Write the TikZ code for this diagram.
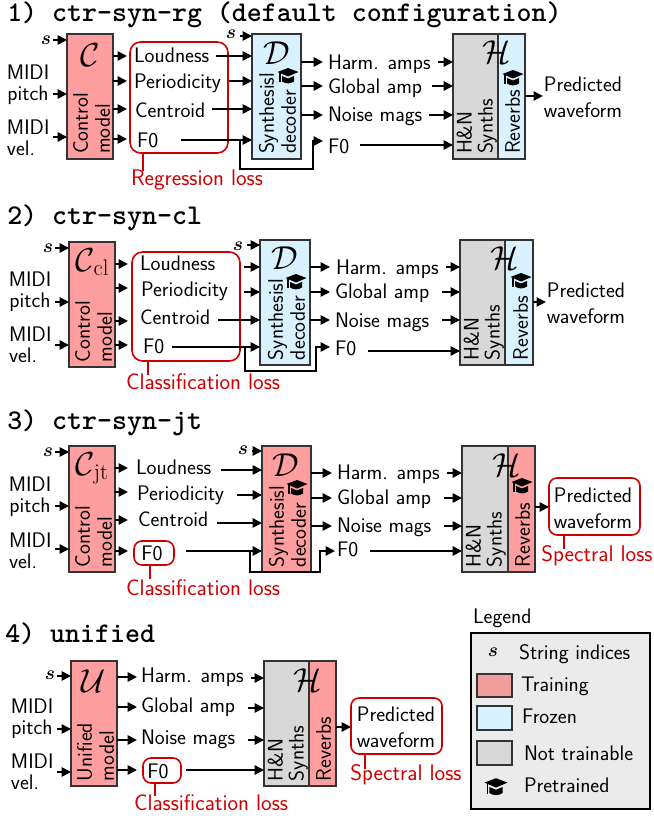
\documentclass[tikz,border=0pt]{standalone}
\usepackage{amsmath}
\usepackage{fontspec}
\usetikzlibrary{arrows.meta}
\renewcommand{\familydefault}{\sfdefault}
\definecolor{trainred}{HTML}{FF9E9E}
\definecolor{frozenblue}{HTML}{DAF1FF}
\definecolor{synthgray}{HTML}{D8D8D8}
\definecolor{edgedark}{HTML}{333333}
\definecolor{lossred}{HTML}{CC0000}
\definecolor{legendbg}{HTML}{EBEBEB}
\def\pxu{0.75pt}
\tikzset{
  x=0.75pt,y=-0.75pt,
  conn/.style={line width=1.3pt,-{Triangle[length=7pt,width=7pt]}},
  bline/.style={line width=1.3pt,line join=miter},
  blockbase/.style={draw=edgedark,line width=2.1pt,inner sep=0pt,outer sep=0pt},
  redblock/.style={blockbase,fill=trainred},
  blueblock/.style={blockbase,fill=frozenblue},
  grayblock/.style={blockbase,fill=synthgray},
  lab/.style={inner sep=0pt,outer sep=0pt,font=\fontsize{15.8}{16}\selectfont,text=black},
  mlab/.style={lab,align=center},
  plab/.style={lab,align=center,font=\fontsize{15.8}{19.5}\selectfont},
  vel/.style={lab,align=left,anchor=west},
  wlab/.style={lab,anchor=west,text height=11pt,text depth=3pt,yshift=-0.75pt},
  vlab/.style={lab,align=left,rotate=90,anchor=south west,font=\fontsize{15.8}{16.5}\selectfont},
  hlab/.style={vlab,font=\fontsize{15.8}{15.75}\selectfont},
  title/.style={inner sep=0pt,anchor=west,text height=15pt,text depth=4pt,font=\fontsize{21.4}{24}\ttfamily\bfseries\selectfont},
  sym/.style={inner sep=0pt,outer sep=0pt,font=\fontsize{29}{30}\selectfont},
  snode/.style={inner sep=0pt,outer sep=0pt,font=\fontsize{15}{16}\selectfont},
  lossbox/.style={draw=lossred,line width=1.2pt,rounded corners=6pt,inner sep=0pt,outer sep=0pt,fill=none},
  losstext/.style={lab,text=lossred,font=\fontsize{16.9}{17}\selectfont},
  lossline/.style={draw=lossred,line width=1.3pt},
  swatch/.style={draw=edgedark,line width=1.6pt,inner sep=0pt,outer sep=0pt},
  pics/gradcap/.style={code={
    \fill[black] (-10.5,-4) -- (0,-8) -- (10.5,-4) -- (0,0.5) -- cycle;
    \fill[black] (-6,0) -- (0,2.5) -- (6,0) -- (6,5.5) .. controls (2,8) and (-2,8) .. (-6,5.5) -- cycle;
    \fill[black] (-8.6,-3) rectangle (-7.4,6);
  }}
}
\newcommand{\calsym}[1]{$\mathcal{#1}$}
\newcommand{\calsub}[2]{$\mathcal{#1}$\kern-1pt\raisebox{-3pt}{\fontsize{17}{17}\rmfamily\selectfont #2}}
% name, x1, y1, x2, y2, style
\newcommand{\blk}[6]{\node[#6,minimum width={(#4-#2)*0.75pt},minimum height={(#5-#3)*0.75pt}] (#1) at ({(#2+#4)/2},{(#3+#5)/2}) {};}
% from, to, y, gap start, gap end
\newcommand{\hc}[5]{\draw[conn,shorten <={#4*\pxu},shorten >={#5*\pxu}] (#1 |- 0,#3) -- (#2 |- 0,#3);}
\begin{document}
\begin{tikzpicture}
\useasboundingbox (0,0) rectangle (653,816);

% ===== 1 =====
\node[title] (t1) at (7,14) {1) ctr-syn-rg (default configuration)};
\blk{C1}{67}{34}{113}{159}{redblock}
\blk{D1}{252}{34}{301}{159}{blueblock}
\blk{HA1}{453}{34}{498}{159}{grayblock}
\blk{HB1}{498}{34}{525}{159}{blueblock}
\blk{R1}{130}{42}{228}{153}{lossbox,rounded corners=8pt}
\node[snode] (s1) at (46,40) {$\boldsymbol{s}$};
\node[mlab] (p1) at (28,85) {MIDI\\pitch};
\node[vel] (v1) at (7,138) {MIDI\\vel.};
\node[sym] (cc1) at (90,55) {\calsym{C}};
\node[vlab] (ct1) at (110,154) {Control\\model};
\node[wlab] (a1) at (134,56) {Loudness};
\node[wlab] (b1) at (134,82) {Periodicity};
\node[wlab] (c1) at (135,111) {Centroid};
\node[wlab] (d1) at (137,141) {F0};
\node[snode] (s1b) at (231,34) {$\boldsymbol{s}$};
\node[sym] (dd1) at (277,53) {\calsym{D}};
\node[vlab] (dt1) at (296,154) {Synthesisl\\decoder};
\pic at (288,76) {gradcap};
\node[wlab] (e1) at (328,63) {Harm. amps};
\node[wlab] (f1) at (328,87) {Global amp};
\node[wlab] (g1) at (328,115) {Noise mags};
\node[wlab] (h1) at (328,147) {F0};
\node[sym] (hh1) at (497,52) {\calsym{H}};
\node[hlab] (ht1) at (497,154) {H\&N\\Synths};
\node[vlab] (rt1) at (520,154) {Reverbs};
\pic at (513,78) {gradcap};
\node[plab] (o1) at (583,97) {Predicted\\waveform};
\node[losstext] (l1) at (197,180) {Regression loss};
\draw[lossline] (R1.south -| 143,0) -- (143,171);
\hc{s1.east}{C1.west}{40}{2}{0}
\hc{p1.east}{C1.west}{94}{4}{0}
\hc{v1.east}{C1.west}{137}{4}{0}
\hc{C1.east}{R1.west}{56}{0}{3}
\hc{C1.east}{R1.west}{81}{0}{3}
\hc{C1.east}{R1.west}{109}{0}{3}
\hc{C1.east}{R1.west}{139}{0}{3}
\hc{s1b.east}{D1.west}{36}{4}{0}
\hc{a1.east}{D1.west}{56}{7}{0}
\hc{b1.east}{D1.west}{81}{8}{0}
\hc{c1.east}{D1.west}{109}{7}{0}
\hc{d1.east}{D1.west}{140}{23}{0}
\draw[bline,-{Triangle[length=7pt,width=7pt]},shorten >={5*\pxu}] (240,140) |- (313,169) |- (h1.west |- 0,141);
\hc{D1.east}{e1.west}{62}{0}{5}
\hc{D1.east}{f1.west}{86}{0}{5}
\hc{D1.east}{g1.west}{115}{0}{5}
\hc{e1.east}{HA1.west}{62}{7}{0}
\hc{f1.east}{HA1.west}{86}{10}{0}
\hc{g1.east}{HA1.west}{115}{7}{0}
\hc{h1.east}{HA1.west}{145}{11}{0}
\hc{HB1.east}{o1.west}{96}{0}{1}

% ===== 2 =====
\node[title] (t2) at (7,217) {2) ctr-syn-cl};
\blk{C2}{69}{242}{115}{367}{redblock}
\blk{D2}{260}{240}{310}{365}{blueblock}
\blk{HA2}{460}{240}{505}{365}{grayblock}
\blk{HB2}{505}{240}{533}{365}{blueblock}
\blk{R2}{132}{252}{240}{361}{lossbox,rounded corners=8pt}
\node[snode] (s2) at (48,248) {$\boldsymbol{s}$};
\node[mlab] (p2) at (30,292) {MIDI\\pitch};
\node[vel] (v2) at (9,345) {MIDI\\vel.};
\node[sym] (cc2) at (92,262) {\calsub{C}{cl}};
\node[vlab] (ct2) at (112,362) {Control\\model};
\node[wlab] (a2) at (140,264) {Loudness};
\node[wlab] (b2) at (141,290) {Periodicity};
\node[wlab] (c2) at (140,318) {Centroid};
\node[wlab] (d2) at (143,347) {F0};
\node[snode] (s2b) at (238,246) {$\boldsymbol{s}$};
\node[sym] (dd2) at (285,258) {\calsym{D}};
\node[vlab] (dt2) at (305,360) {Synthesisl\\decoder};
\pic at (296,282) {gradcap};
\node[wlab] (e2) at (336,268) {Harm. amps};
\node[wlab] (f2) at (335,292) {Global amp};
\node[wlab] (g2) at (335,321) {Noise mags};
\node[wlab] (h2) at (335,349) {F0};
\node[sym] (hh2) at (505,258) {\calsym{H}};
\node[hlab] (ht2) at (504,360) {H\&N\\Synths};
\node[vlab] (rt2) at (528,360) {Reverbs};
\pic at (521,281) {gradcap};
\node[plab] (o2) at (586,303) {Predicted\\waveform};
\node[losstext] (l2) at (203,382) {Classification loss};
\draw[lossline] (R2.south -| 148,0) -- (148,375);
\hc{s2.east}{C2.west}{248}{2}{0}
\hc{p2.east}{C2.west}{302}{4}{0}
\hc{v2.east}{C2.west}{345}{4}{0}
\hc{C2.east}{R2.west}{264}{0}{4}
\hc{C2.east}{R2.west}{288}{0}{4}
\hc{C2.east}{R2.west}{321}{0}{4}
\hc{C2.east}{R2.west}{345}{0}{4}
\hc{s2b.east}{D2.west}{245}{4}{0}
\hc{R2.east}{D2.west}{267}{4}{0}
\hc{R2.east}{D2.west}{292}{4}{0}
\hc{c2.east}{D2.west}{320}{8}{0}
\hc{d2.east}{D2.west}{347}{8}{0}
\draw[bline,-{Triangle[length=7pt,width=7pt]},shorten >={5*\pxu}] (245,347) |- (316,371) |- (h2.west |- 0,347);
\hc{D2.east}{e2.west}{267}{0}{6}
\hc{D2.east}{f2.west}{292}{0}{5}
\hc{D2.east}{g2.west}{320}{0}{5}
\hc{e2.east}{HA2.west}{267}{7}{0}
\hc{f2.east}{HA2.west}{292}{13}{0}
\hc{g2.east}{HA2.west}{320}{13}{0}
\hc{h2.east}{HA2.west}{351}{12}{0}
\hc{HB2.east}{o2.west}{302}{0}{1}

% ===== 3 =====
\node[title] (t3) at (7,422) {3) ctr-syn-jt};
\blk{C3}{69}{446}{115}{572}{redblock}
\blk{D3}{262}{446}{311}{572}{redblock}
\blk{HA3}{462}{446}{508}{572}{grayblock}
\blk{HB3}{508}{446}{535}{572}{redblock}
\blk{R3}{134}{541}{174}{565}{lossbox}
\blk{Q3}{549}{478}{640}{535}{lossbox}
\node[snode] (s3) at (48,452) {$\boldsymbol{s}$};
\node[mlab] (p3) at (30,497) {MIDI\\pitch};
\node[vel] (v3) at (9,551) {MIDI\\vel.};
\node[sym] (cc3) at (92,468) {\calsub{C}{jt}};
\node[vlab] (ct3) at (112,567) {Control\\model};
\node[wlab] (a3) at (136,468) {Loudness};
\node[wlab] (b3) at (137,494) {Periodicity};
\node[wlab] (c3) at (138,520) {Centroid};
\node[lab] (d3) at (152,553) {F0};
\node[snode] (s3b) at (243,450) {$\boldsymbol{s}$};
\node[sym] (dd3) at (286,465) {\calsym{D}};
\node[vlab] (dt3) at (306,567) {Synthesisl\\decoder};
\pic at (297,488) {gradcap};
\node[wlab] (e3) at (337,473) {Harm. amps};
\node[wlab] (f3) at (337,498) {Global amp};
\node[wlab] (g3) at (337,526) {Noise mags};
\node[wlab] (h3) at (337,550) {F0};
\node[sym] (hh3) at (507,465) {\calsym{H}};
\node[hlab] (ht3) at (506,567) {H\&N\\Synths};
\node[vlab] (rt3) at (530,567) {Reverbs};
\pic at (522,486) {gradcap};
\node[plab] (o3) at (593,508) {Predicted\\waveform};
\node[losstext] (l3) at (203,588) {Classification loss};
\node[losstext] (m3) at (597,556) {Spectral loss};
\draw[lossline] (R3.south -| 150,0) -- (150,579);
\draw[lossline] (Q3.south -| 564,0) -- (564,549);
\hc{s3.east}{C3.west}{452}{2}{0}
\hc{p3.east}{C3.west}{506}{4}{0}
\hc{v3.east}{C3.west}{549}{4}{0}
\hc{C3.east}{a3.west}{468}{0}{8}
\hc{C3.east}{b3.west}{492}{0}{9}
\hc{C3.east}{c3.west}{520}{0}{10}
\hc{C3.east}{R3.west}{551}{0}{6}
\hc{s3b.east}{D3.west}{451}{4}{0}
\hc{a3.east}{D3.west}{470}{10}{0}
\hc{b3.east}{D3.west}{495}{13}{0}
\hc{c3.east}{D3.west}{523}{9}{0}
\hc{R3.east}{D3.west}{551}{12}{0}
\draw[bline,-{Triangle[length=7pt,width=7pt]},shorten >={2*\pxu}] (250,551) |- (320,572) |- (h3.west |- 0,551);
\hc{D3.east}{e3.west}{473}{0}{5}
\hc{D3.east}{f3.west}{498}{0}{5}
\hc{D3.east}{g3.west}{526}{0}{5}
\hc{e3.east}{HA3.west}{473}{7}{0}
\hc{f3.east}{HA3.west}{498}{13}{0}
\hc{g3.east}{HA3.west}{526}{13}{0}
\hc{h3.east}{HA3.west}{551}{12}{0}
\hc{HB3.east}{Q3.west}{507}{0}{0}

% ===== 4 =====
\node[title] (t4) at (5,635) {4) unified};
\blk{U4}{71}{661}{117}{786}{redblock}
\blk{HA4}{264}{661}{309}{786}{grayblock}
\blk{HB4}{309}{661}{336}{786}{redblock}
\blk{R4}{143}{758}{181}{783}{lossbox}
\blk{Q4}{351}{698}{442}{754}{lossbox}
\node[snode] (s4) at (50,675) {$\boldsymbol{s}$};
\node[mlab] (p4) at (32,719) {MIDI\\pitch};
\node[vel] (v4) at (11,772) {MIDI\\vel.};
\node[sym] (cc4) at (94,681) {\calsym{U}};
\node[vlab] (ct4) at (114,781) {Unified\\model};
\node[wlab] (e4) at (141,676) {Harm. amps};
\node[wlab] (f4) at (141,706) {Global amp};
\node[wlab] (g4) at (141,738) {Noise mags};
\node[lab] (d4) at (158,771) {F0};
\node[sym] (hh4) at (308,680) {\calsym{H}};
\node[hlab] (ht4) at (308,781) {H\&N\\Synths};
\node[vlab] (rt4) at (331,781) {Reverbs};
\node[plab] (o4) at (396,727) {Predicted\\waveform};
\node[losstext] (l4) at (211,803) {Classification loss};
\node[losstext] (m4) at (406,775) {Spectral loss};
\draw[lossline] (R4.south -| 155,0) -- (155,796);
\draw[lossline] (Q4.south -| 365,0) -- (365,769);
\hc{s4.east}{U4.west}{676}{2}{0}
\hc{p4.east}{U4.west}{729}{4}{0}
\hc{v4.east}{U4.west}{772}{4}{0}
\hc{U4.east}{e4.west}{677}{0}{4}
\hc{U4.east}{f4.west}{707}{0}{4}
\hc{U4.east}{g4.west}{740}{0}{4}
\hc{U4.east}{R4.west}{770}{0}{6}
\hc{e4.east}{HA4.west}{678}{7}{0}
\hc{f4.east}{HA4.west}{708}{13}{0}
\hc{g4.east}{HA4.west}{740}{13}{0}
\hc{R4.east}{HA4.west}{770}{5}{0}
\hc{HB4.east}{Q4.west}{727}{0}{0}

% ===== Legend =====
\node[wlab] (lg) at (473,617) {Legend};
\blk{LB}{471}{633}{650}{809}{draw=black,line width=2pt,fill=legendbg,inner sep=0pt,outer sep=0pt}
\node[snode] (ls) at (493,652) {$\boldsymbol{s}$};
\node[wlab] (ls2) at (519,653) {String indices};
\blk{S1}{477}{674}{512}{697}{swatch,fill=trainred!90!gray}
\node[wlab] (lt) at (521,685) {Training};
\blk{S2}{477}{706}{512}{730}{swatch,fill=frozenblue}
\node[wlab] (lf) at (522,717) {Frozen};
\blk{S3}{477}{741}{512}{765}{swatch,fill=synthgray}
\node[wlab] (ln) at (524,754) {Not trainable};
\pic[scale=1.1] at (496,787) {gradcap};
\node[wlab] (lp) at (524,786) {Pretrained};
\end{tikzpicture}
\end{document}
